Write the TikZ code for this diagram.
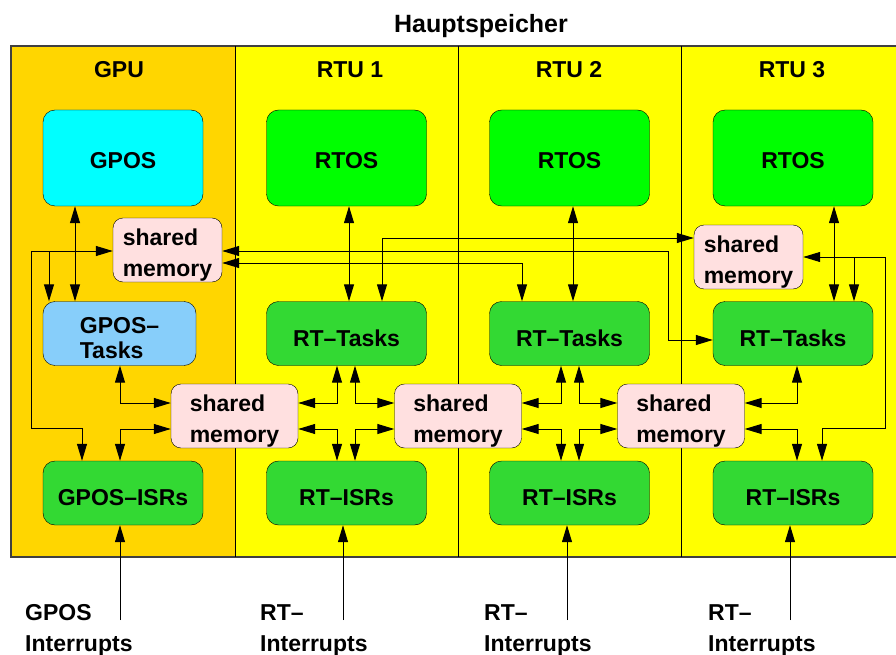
\documentclass[tikz,border=0pt]{standalone}
\usepackage{fontspec}
\setmainfont{Liberation Sans}
\usetikzlibrary{arrows.meta}
\definecolor{gpuColor}{RGB}{255,214,0}
\definecolor{rtuColor}{RGB}{255,255,0}
\definecolor{gposColor}{RGB}{0,255,255}
\definecolor{rtosColor}{RGB}{0,255,0}
\definecolor{gposTaskColor}{RGB}{135,206,250}
\definecolor{taskColor}{RGB}{51,217,51}
\definecolor{memColor}{RGB}{255,224,224}
\definecolor{frameColor}{RGB}{64,64,64}

\begin{document}
\begin{tikzpicture}[x=1pt,y=-1pt]

          \tikzstyle{labelText} = [inner sep=0pt, font=\bfseries\fontsize{23}{31}\selectfont];
          \tikzstyle{osBox} = [labelText, draw=black, rounded corners=12pt, minimum width=160pt, minimum height=96pt, text height=20.5pt, text depth=0pt];
          \tikzstyle{taskBox} = [labelText, draw=black, rounded corners=12pt, minimum width=160pt, minimum height=64pt, fill=taskColor, text height=25pt, text depth=0pt];
          \tikzstyle{memBox} = [labelText, draw=black, rounded corners=10pt, minimum height=64pt, fill=memColor, align=left, text height=56pt, text depth=4pt];

          \tikzstyle{oneWay} = [line width=1pt, -{Triangle[length=17pt,width=10pt]}];
          \tikzstyle{backWay} = [line width=1pt, {Triangle[length=17pt,width=10pt]}-];
          \tikzstyle{twoWay} = [line width=1pt, {Triangle[length=17pt,width=10pt]}-{Triangle[length=17pt,width=10pt]}];

          % background and units
          \useasboundingbox (0,0) rectangle (896,655);
          \fill[white] (0,0) rectangle (896,655);
          \fill[gpuColor] (11,46) rectangle (235,557);
          \fill[rtuColor] (235,46) rectangle (896,557);
          \draw[frameColor, line width=1.6pt] (896,46) -- (11,46) -- (11,557) -- (896,557);
          \draw[line width=0.8pt] (235,46) -- (235,557);
          \draw[line width=0.8pt] (458,46) -- (458,557);
          \draw[line width=0.8pt] (681,46) -- (681,557);

          \node[labelText, anchor=base, font=\bfseries\fontsize{25}{31}\selectfont] (mainMem) at (481,33) {Hauptspeicher};
          \node[labelText] (gpuTitle) at (119,70) {GPU};
          \node[labelText] (rtuTitleA) at (350,70) {RTU 1};
          \node[labelText] (rtuTitleB) at (569,70) {RTU 2};
          \node[labelText] (rtuTitleC) at (792,70) {RTU 3};

          % operating systems
          \node[osBox, fill=gposColor] (gpos) at (123,158) {GPOS};
          \node[osBox, fill=rtosColor] (rtosA) at (346.5,158) {RTOS};
          \node[osBox, fill=rtosColor] (rtosB) at (569.5,158) {RTOS};
          \node[osBox, fill=rtosColor] (rtosC) at (793,158) {RTOS};

          % tasks
          \node[taskBox, fill=gposTaskColor, minimum width=153pt, align=left, font=\bfseries\fontsize{23}{25}\selectfont, text height=49pt, text depth=0pt] (gposTasks) at (119.5,333.5) {GPOS--\\Tasks};
          \node[taskBox] (rtTasksA) at (346.5,333.5) {RT--Tasks};
          \node[taskBox] (rtTasksB) at (569.5,333.5) {RT--Tasks};
          \node[taskBox] (rtTasksC) at (793,333.5) {RT--Tasks};

          % interrupt service routines
          \node[taskBox] (gposIsr) at (123,493) {GPOS--ISRs};
          \node[taskBox] (rtIsrA) at (346.5,493) {RT--ISRs};
          \node[taskBox] (rtIsrB) at (569.5,493) {RT--ISRs};
          \node[taskBox] (rtIsrC) at (793,493) {RT--ISRs};

          % shared memory
          \node[memBox, minimum width=109pt] (memGpu) at (167.5,250) {shared\\memory};
          \node[memBox, minimum width=109pt] (memRtu) at (748.5,257) {shared\\memory};
          \node[memBox, minimum width=127pt] (memAB) at (234.5,416) {shared\\memory};
          \node[memBox, minimum width=127pt] (memBC) at (458,416) {shared\\memory};
          \node[memBox, minimum width=127pt] (memCD) at (681,416) {shared\\memory};

          % lanes
          \coordinate (laneTop) at (0,238);
          \coordinate (laneMem) at (0,263);
          \coordinate (laneUp) at (0,403);
          \coordinate (laneDown) at (0,429);
          \coordinate (laneBend) at (668,251);
          \coordinate (gpuBus) at (31,251);
          \coordinate (gpuBranch) at (49,251);
          \coordinate (rtuBus) at (885,257);
          \coordinate (rtuBranch) at (854,257);

          % GPU
          \draw[twoWay] ([xshift=-48pt]gpos.south) -- ([xshift=-44.5pt]gposTasks.north);
          \draw[oneWay] (gpuBus) -- (gpuBus -| memGpu.west);
          \draw[oneWay] (gpuBranch) -- (gposTasks.north -| gpuBranch);
          \draw[backWay] ([xshift=-41pt]gposIsr.north) -- ++(0,-32) -| (gpuBus);
          \draw[twoWay] ([xshift=0.5pt]gposTasks.south) |- (memAB.west |- laneUp);
          \draw[twoWay] ([xshift=-3pt]gposIsr.north) |- (memAB.west |- laneDown);

          % RTU 1
          \draw[twoWay] ([xshift=2.5pt]rtosA.south) -- ([xshift=2.5pt]rtTasksA.north);
          \draw[twoWay] ([xshift=35.5pt]rtTasksA.north) |- (memRtu.west |- laneTop);
          \draw[twoWay] ([xshift=-9.5pt]rtTasksA.south) |- (memAB.east |- laneUp);
          \draw[twoWay] ([xshift=8.5pt]rtTasksA.south) |- (memBC.west |- laneUp);
          \draw[twoWay] ([xshift=-9.5pt]rtIsrA.north) |- (memAB.east |- laneDown);
          \draw[twoWay] ([xshift=8.5pt]rtIsrA.north) |- (memBC.west |- laneDown);

          % RTU 2
          \draw[twoWay] ([xshift=3.5pt]rtosB.south) -- ([xshift=3.5pt]rtTasksB.north);
          \draw[twoWay] ([xshift=-47.5pt]rtTasksB.north) |- (memGpu.east |- laneMem);
          \draw[twoWay] ([xshift=-8.5pt]rtTasksB.south) |- (memBC.east |- laneUp);
          \draw[twoWay] ([xshift=9.5pt]rtTasksB.south) |- (memCD.west |- laneUp);
          \draw[twoWay] ([xshift=-8.5pt]rtIsrB.north) |- (memBC.east |- laneDown);
          \draw[twoWay] ([xshift=9.5pt]rtIsrB.north) |- (memCD.west |- laneDown);

          % RTU 3
          \draw[twoWay] ([xshift=41pt]rtosC.south) -- ([xshift=41pt]rtTasksC.north);
          \draw[twoWay] ([yshift=-6.5pt]rtTasksC.west) -| (laneBend) -- (memGpu.east |- laneBend);
          \draw[oneWay] (rtuBus) -- (rtuBus -| memRtu.east);
          \draw[oneWay] (rtuBranch) -- (rtTasksC.north -| rtuBranch);
          \draw[backWay] ([xshift=29pt]rtIsrC.north) -- ++(0,-32) -| (rtuBus);
          \draw[twoWay] ([xshift=4pt]rtTasksC.south) |- (memCD.east |- laneUp);
          \draw[twoWay] ([xshift=4pt]rtIsrC.north) |- (memCD.east |- laneDown);

          % interrupts
          \coordinate (irqGpu) at (120,620);
          \coordinate (irqA) at (343,620);
          \coordinate (irqB) at (567,620);
          \coordinate (irqC) at (790,620);
          \draw[oneWay] (irqGpu) -- (gposIsr.south -| irqGpu);
          \draw[oneWay] (irqA) -- (rtIsrA.south -| irqA);
          \draw[oneWay] (irqB) -- (rtIsrB.south -| irqB);
          \draw[oneWay] (irqC) -- (rtIsrC.south -| irqC);

          \node[labelText, align=left, anchor=north west] (irqGpuText) at (25,604) {GPOS\\Interrupts};
          \node[labelText, align=left, anchor=north west] (irqTextA) at (260,604) {RT--\\Interrupts};
          \node[labelText, align=left, anchor=north west] (irqTextB) at (484,604) {RT--\\Interrupts};
          \node[labelText, align=left, anchor=north west] (irqTextC) at (708,604) {RT--\\Interrupts};
        \end{tikzpicture}
\end{document}
